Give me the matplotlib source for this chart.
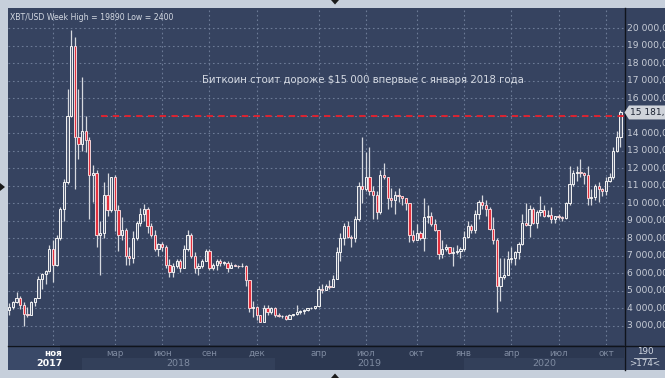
import numpy as np
import pandas as pd
import matplotlib
matplotlib.use('Agg')
import matplotlib.pyplot as plt
from matplotlib.patches import Rectangle, Polygon

W, H = 665, 378

# weekly bars, first bar = week of 2017-08-14
START = '2017-08-14'
opens = [3900, 4100, 4350, 4600, 4200, 3700, 3650, 4350, 4600, 5700, 5950, 6150, 7400, 6500, 8000, 9700,
         11200, 15000, 19000, 13800, 13400, 14100, 13600, 11600, 11700, 8200, 8300, 10500, 9600, 11500, 9600, 8200,
         8500, 7000, 6900, 8000, 8900, 9400, 9700, 8700, 8200, 7400, 7700, 7500, 6500, 6100, 6400, 6700,
         6300, 7400, 8200, 7000, 6300, 6400, 6700, 7300, 6300, 6500, 6700, 6600, 6620, 6300, 6500, 6450,
         6400, 6450, 5600, 4000, 4100, 3600, 3250, 4000, 3800, 4000, 3600, 3550, 3560, 3400, 3650, 3660,
         3800, 3850, 3900, 4000, 4010, 4150, 5100, 5050, 5300, 5200, 5700, 7200, 8000, 8700, 8050, 8000,
         9100, 11000, 10800, 11500, 10700, 10500, 9500, 11600, 11500, 10300, 10200, 10500, 10400, 10300, 10000, 8200,
         7900, 8300, 8000, 9200, 9250, 8800, 8500, 7100, 7400, 7500, 7150, 7200, 7300, 7400, 8100, 8700,
         8500, 9400, 10100, 9900, 9700, 8550, 7900, 5300, 5800, 5900, 6800, 6900, 7200, 7700, 8900, 8750,
         9700, 8900, 9500, 9600, 9300, 9320, 9100, 9300, 9200, 9180, 10000, 11100, 11700, 11800, 11700, 11600,
         10300, 10350, 11000, 10800, 10700, 11300, 11500, 13000, 13800]
highs = [4300, 4450, 4950, 4700, 4350, 4100, 4400, 4600, 5850, 6000, 6200, 7600, 7900, 8200, 9800, 11400,
         16500, 19890, 19500, 16500, 17200, 15000, 13800, 12200, 11900, 9000, 11200, 11700, 11500, 11600, 9900, 9200,
         8600, 7500, 8400, 9000, 9750, 9950, 9800, 8900, 8500, 7750, 7800, 7600, 6800, 6600, 6800, 6800,
         7600, 8500, 8300, 7200, 6600, 6800, 7400, 7400, 6600, 6800, 6800, 6700, 6700, 6650, 6550, 6500,
         6600, 6500, 5600, 4400, 4150, 3600, 4200, 4200, 4100, 4100, 3750, 3650, 3600, 3700, 3700, 4200,
         3900, 3950, 4050, 4100, 4150, 5300, 5400, 5400, 5600, 5900, 7500, 8300, 8900, 9000, 8200, 9300,
         11200, 13800, 12900, 13200, 11000, 10700, 11900, 12300, 11500, 10900, 10700, 10900, 10400, 10300, 10000, 8500,
         8800, 8400, 10300, 9900, 9500, 9100, 8500, 7900, 7700, 7500, 7500, 7600, 7500, 8400, 9000, 8800,
         9600, 10200, 10500, 10200, 9800, 9200, 8000, 6900, 6900, 7300, 7500, 7300, 7800, 9400, 10000, 9900,
         9800, 9600, 10400, 9900, 9600, 9800, 9300, 9400, 9300, 10100, 12100, 11900, 12100, 12500, 11800, 12100,
         10800, 11100, 11200, 10900, 11500, 11700, 13200, 14100, 15300]
lows = [3600, 3950, 4300, 3950, 2980, 3500, 3600, 4150, 4600, 5100, 5400, 6100, 5500, 6400, 7900, 9000,
        11100, 14900, 10800, 12500, 13000, 12900, 9100, 10100, 7500, 5900, 8000, 9300, 9500, 8400, 7300, 7900,
        6500, 6500, 6600, 7900, 8700, 9000, 8300, 8100, 7300, 7000, 7300, 6300, 5800, 5800, 6300, 6100,
        6300, 7300, 6900, 6000, 5900, 6300, 6700, 6200, 6200, 6200, 6400, 6500, 6100, 6300, 6400, 6300,
        6350, 5300, 3800, 3500, 3350, 3200, 3200, 3600, 3700, 3500, 3500, 3450, 3350, 3400, 3550, 3650,
        3700, 3700, 3850, 3950, 3950, 4100, 4900, 5050, 5100, 5200, 5700, 6700, 7600, 8000, 7500, 7800,
        9000, 10000, 10700, 10500, 9100, 9100, 9400, 11400, 9700, 9800, 9400, 10100, 9900, 9600, 7800, 7800,
        7900, 7900, 7300, 8900, 8700, 8400, 6800, 6900, 7300, 7100, 6400, 7100, 6900, 7300, 8000, 8300,
        8300, 9100, 9700, 9300, 8500, 7700, 3800, 4400, 5700, 5900, 6600, 6500, 6800, 7600, 8700, 8100,
        8800, 8600, 9300, 9200, 9200, 8900, 8900, 9100, 9000, 9100, 9900, 11000, 11300, 11500, 11100, 9900,
        9900, 10200, 10100, 10400, 10500, 11200, 11400, 12900, 13200]
closes = [4100, 4350, 4600, 4200, 3700, 3650, 4350, 4600, 5700, 5950, 6150, 7400, 6500, 8000, 9700, 11200,
          15000, 19000, 13800, 13400, 14100, 13600, 11600, 11700, 8200, 8300, 10500, 9600, 11500, 9600, 8200, 8500,
          7000, 6900, 8000, 8900, 9400, 9700, 8700, 8200, 7400, 7700, 7500, 6500, 6100, 6400, 6700, 6300,
          7400, 8200, 7000, 6300, 6400, 6700, 7300, 6300, 6500, 6700, 6600, 6620, 6300, 6500, 6450, 6400,
          6450, 5600, 4000, 4100, 3600, 3250, 4000, 3800, 4000, 3600, 3550, 3560, 3400, 3650, 3660, 3800,
          3850, 3900, 4000, 4010, 4150, 5100, 5050, 5300, 5200, 5700, 7200, 8000, 8700, 8050, 8000, 9100,
          11000, 10800, 11500, 10700, 10500, 9500, 11600, 11500, 10300, 10200, 10500, 10400, 10300, 10000, 8200, 7900,
          8300, 8000, 9200, 9250, 8800, 8500, 7100, 7400, 7500, 7150, 7200, 7300, 7400, 8100, 8700, 8500,
          9400, 10100, 9900, 9700, 8550, 7900, 5300, 5800, 5900, 6800, 6900, 7200, 7700, 8900, 8750, 9700,
          8900, 9500, 9600, 9300, 9320, 9100, 9300, 9200, 9180, 10000, 11100, 11700, 11800, 11700, 11600, 10300,
          10350, 11000, 10800, 10700, 11300, 11500, 13000, 13800, 15181]

month_ticks = ['2017-11', '2018-03', '2018-06', '2018-09', '2018-12', '2019-04',
               '2019-07', '2019-10', '2020-01', '2020-04', '2020-07', '2020-10']
month_labels = ['ноя', 'мар', 'июн', 'сен', 'дек', 'апр', 'июл', 'окт', 'янв', 'апр', 'июл', 'окт']
years = ['2018', '2019', '2020']
price_levels = list(range(3000, 20001, 1000))
LEVEL = 15000
LAST = 15181

BG = '#364360'
BG_DATE = '#2c3851'
FRAME = '#c6cfdb'
GRID = '#6c7a96'
TXT = '#d4d9e2'
DIM = '#7f8ba1'


def px(x, y):
    return x / W, 1 - y / H


def week_index(dates, month):
    # first weekly bar that starts inside the month
    m = pd.Period(month, 'M')
    return int(np.argmax([d.to_period('M') == m for d in dates]))


def main():
    n = len(closes)
    dates = pd.date_range(START, periods=n, freq='W-MON')
    idx = np.arange(n)
    o, h, l, c = map(np.array, (opens, highs, lows, closes))

    fig = plt.figure(figsize=(W / 100, H / 100), dpi=100, facecolor=FRAME)

    # right price panel
    fig.patches.append(Rectangle(px(624, 370), 41 / W, 362 / H, transform=fig.transFigure,
                                 facecolor=BG, edgecolor='none', zorder=0))

    x0, y0 = px(8, 345)
    x1, y1 = px(624, 8)
    ax = fig.add_axes([x0, y0, x1 - x0, y1 - y0])
    ax.set_zorder(3)
    ax.set_facecolor(BG)
    ax.set_xlim(-0.36, 168.97)
    ax.set_ylim(1916, 21141)
    for s in ax.spines.values():
        s.set_visible(False)
    ax.set_xticks([])
    ax.set_yticks([])

    tick_idx = [week_index(dates, m) for m in month_ticks]
    for p in price_levels:
        ax.axhline(p, color=GRID, lw=0.8, ls=(0, (1.5, 2.5)), zorder=1)
    for t in tick_idx:
        ax.axvline(t, color=GRID, lw=0.8, ls=(0, (1.5, 2.5)), zorder=1)

    # candles
    up = c >= o
    ax.vlines(idx, l, h, color='#d6d9df', lw=0.9, zorder=2)
    bottom = np.minimum(o, c)
    height = np.maximum(np.abs(c - o), 40)
    ax.bar(idx[up], height[up], bottom=bottom[up], width=0.62,
           facecolor='#58627a', edgecolor='#f4f4f4', linewidth=0.7, zorder=3)
    ax.bar(idx[~up], height[~up], bottom=bottom[~up], width=0.62,
           facecolor='#e2303e', edgecolor='#f2d4d8', linewidth=0.7, zorder=3)

    # 15 000 level
    ax.hlines(LEVEL, 25.3, n + 1, color='#e8202c', lw=1.3, ls=(0, (3.5, 3)), zorder=4)

    ax.text(0.003, 0.984, 'XBT/USD Week High = 19890 Low = 2400', transform=ax.transAxes,
            ha='left', va='top', fontsize=5.6, color=TXT)
    ax.text(97.2, 17050, 'Биткоин стоит дороже $15 000 впервые с января 2018 года',
            ha='center', va='center', fontsize=7.3, color=TXT)

    # right price scale (the 15 000 label sits under the last-price marker)
    for p in price_levels:
        if p == LEVEL:
            continue
        yy = ax.transData.transform((0, p))[1] / H
        fig.text(627 / W, yy, f'{p // 1000:d} 000,00', ha='left', va='center',
                 fontsize=6.6, color='#c9ced8')
    yy = ax.transData.transform((0, LAST))[1] / H
    pts = [px(624.5, 0)[0], yy], [px(629, 0)[0], yy + 7 / H], [1.0, yy + 7 / H], \
          [1.0, yy - 7 / H], [px(629, 0)[0], yy - 7 / H]
    fig.patches.append(Polygon(pts, closed=True, transform=fig.transFigure,
                               facecolor='#cfd3da', edgecolor='none', zorder=5))
    fig.text(630 / W, yy, '15 181,00', ha='left', va='center', fontsize=6.6,
             color='#1c2333', zorder=6)

    # date axis
    fig.patches.append(Rectangle(px(8, 370), 616 / W, 25 / H, transform=fig.transFigure,
                                 facecolor=BG_DATE, edgecolor='none', zorder=1))
    fig.patches.append(Rectangle(px(8, 370), 52 / W, 25 / H, transform=fig.transFigure,
                                 facecolor='#3a4968', edgecolor='none', zorder=1))
    to_px = lambda i: ax.transData.transform((i, 0))[0]
    jan = [week_index(dates, y + '-01') for y in years] + [n + 0.5]
    for k, yr in enumerate(years):
        xa, xb = to_px(jan[k]), min(to_px(jan[k + 1]), 624)
        if k != 1:
            fig.patches.append(Rectangle(px(xa, 370), (xb - xa) / W, 12 / H,
                                         transform=fig.transFigure, facecolor='#33405a',
                                         edgecolor='none', zorder=1))
        fig.text((xa + xb) / 2 / W, px(0, 363)[1], yr, ha='center', va='center',
                 fontsize=6.8, color=DIM)
    for t, lab in zip(tick_idx, month_labels):
        xx = to_px(t)
        if t == tick_idx[0]:
            fig.text(xx / W, px(0, 353)[1], lab, ha='center', va='center', fontsize=6.3,
                     color='white', weight='bold')
        else:
            fig.text(xx / W, px(0, 353)[1], lab, ha='center', va='center', fontsize=6.3, color=DIM)
    fig.text(49 / W, px(0, 363)[1], '2017', ha='center', va='center', fontsize=6.8,
             color='white', weight='bold')

    # separators
    fig.lines.append(plt.Line2D([8 / W, 1], [px(0, 345.5)[1]] * 2, transform=fig.transFigure,
                                color='#10141c', lw=1.0))
    fig.lines.append(plt.Line2D([624.5 / W] * 2, [px(0, 370)[1], px(0, 8)[1]],
                                transform=fig.transFigure, color='#10141c', lw=1.0))
    fig.lines.append(plt.Line2D([634 / W, 656 / W], [px(0, 357.5)[1]] * 2,
                                transform=fig.transFigure, color='#c9ced8', lw=0.6))
    fig.text(645 / W, px(0, 352)[1], '190', ha='center', va='center', fontsize=6.3, color='#d0d6e0')
    fig.text(645 / W, px(0, 364)[1], '>174<', ha='center', va='center', fontsize=6.3, color='#d0d6e0')

    # little frame arrows
    for tri in ([(331, 0), (339, 0), (335, 4.5)], [(331, 378), (339, 378), (335, 373.5)],
                [(0, 183), (0, 191), (5, 187)]):
        fig.patches.append(Polygon([px(*p) for p in tri], closed=True, transform=fig.transFigure,
                                   facecolor='#1a1a1a', edgecolor='none', zorder=6))

    fig.savefig('out.png', dpi=100, facecolor=FRAME)


if __name__ == '__main__':
    main()
